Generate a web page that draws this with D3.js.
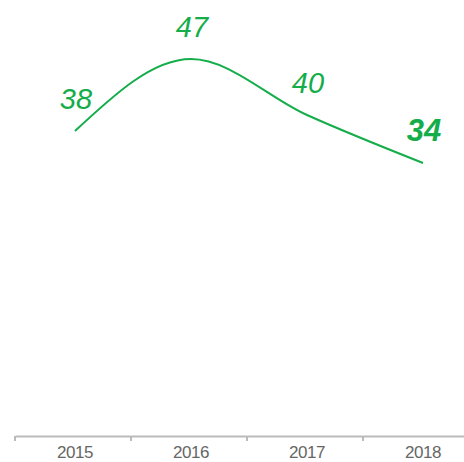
<!DOCTYPE html>
<html><head><meta charset="utf-8">
<script src="https://cdn.jsdelivr.net/npm/d3@7"></script>
<style>body{margin:0;background:#fff}svg{display:block}</style>
</head><body>
<script>
const years = ["2015","2016","2017","2018"];
const values = [38,47,40,34];
const W=464,H=462;
const svg=d3.select("body").append("svg").attr("width",W).attr("height",H);
const x=d3.scaleBand().domain(years).range([15,479]);
const y=d3.scaleLinear().domain([0,54.375]).range([435,0]);
const green="#14ad4a";
const ax=svg.append("g").attr("transform","translate(2,436)")
  .call(d3.axisBottom(x).tickSize(0).tickPadding(10));
ax.select(".domain").attr("transform","translate(-2,0)").attr("stroke","#bbbbbb").attr("stroke-width",2);
ax.selectAll("text").attr("fill","#666").attr("font-size",17).attr("font-family","Liberation Sans, Arial, sans-serif").attr("letter-spacing","-0.5");
svg.append("g").selectAll("line").data(years).join("line")
  .attr("x1",d=>x(d)).attr("x2",d=>x(d)).attr("y1",436).attr("y2",441)
  .attr("stroke","#bbbbbb").attr("stroke-width",2);
const cx=d=>x(d)+x.bandwidth()/2+2;
svg.append("path").datum(years.map((d,i)=>[cx(d),y(values[i])]))
  .attr("d",d3.line().curve(d3.curveMonotoneX)).attr("fill","none")
  .attr("stroke",green).attr("stroke-width",2);
svg.append("g").selectAll("text").data(years).join("text")
  .attr("x",d=>cx(d)+1).attr("y",(d,i)=>y(values[i])-22)
  .attr("text-anchor","middle").attr("fill",green)
  .attr("font-family","Liberation Sans, Arial, sans-serif").attr("font-style","italic")
  .attr("font-size",(d,i)=>i===3?31:29).attr("font-weight",(d,i)=>i===3?"bold":"normal")
  .text((d,i)=>values[i]);
</script>
</body></html>
